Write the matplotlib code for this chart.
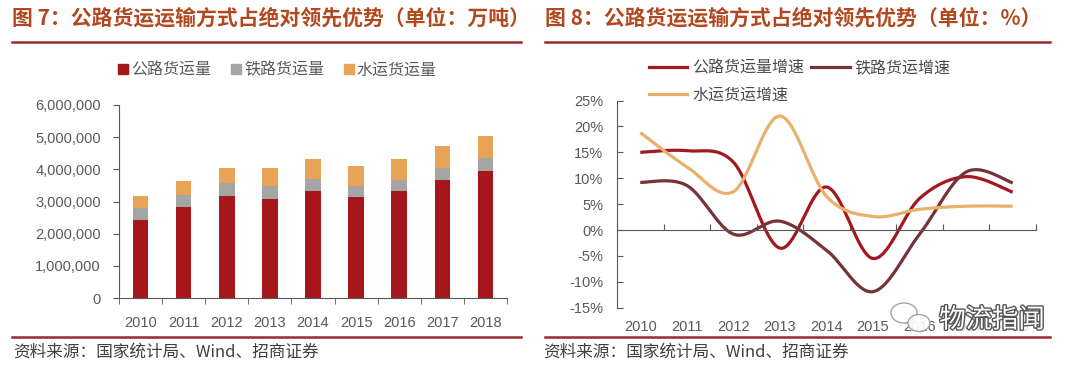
import numpy as np
import matplotlib
matplotlib.use('Agg')
import matplotlib.pyplot as plt
import matplotlib.patheffects as pe
from matplotlib.lines import Line2D
from matplotlib.patches import Ellipse
from matplotlib.font_manager import FontProperties
from matplotlib.ticker import FuncFormatter

plt.rcParams['font.family'] = ['Liberation Sans', 'Noto Sans CJK SC', 'DejaVu Sans']

# data
years = ['2010', '2011', '2012', '2013', '2014', '2015', '2016', '2017', '2018']
road_vol = [2440000, 2820000, 3180000, 3070000, 3330000, 3150000, 3340000, 3680000, 3950000]
rail_vol = [360000, 390000, 390000, 400000, 380000, 340000, 330000, 370000, 400000]
water_vol = [380000, 430000, 460000, 560000, 600000, 610000, 640000, 670000, 700000]

road_g = [15.0, 15.3, 13.1, -3.5, 8.3, -5.5, 6.1, 10.3, 7.3]
rail_g = [9.2, 8.6, -0.8, 1.7, -3.9, -11.9, -0.8, 11.2, 9.1]
water_g = [18.8, 12.2, 7.4, 22.0, 6.5, 2.6, 4.0, 4.6, 4.6]

vol_labels = ['公路货运量', '铁路货运量', '水运货运量']
g_labels = ['公路货运量增速', '铁路货运增速', '水运货运增速']

RED = '#A6171C'
GRAY = '#A5A5A5'
ORANGE = '#E8A456'
L_ROAD = '#A3181F'
L_RAIL = '#763236'
L_WATER = '#E9B06C'
TITLE = '#B2481F'
RULE = '#9B2A2E'
AX = '#595959'

cjk = FontProperties(family='Noto Sans CJK SC', size=11.5)


def smooth(xs, ys, n=40):
    # excel-like smoothed line (bezier through the points)
    pts = np.column_stack([xs, ys]).astype(float)
    p = np.vstack([pts[0], pts, pts[-1]])
    t = np.linspace(0, 1, n)[:, None]
    segs = []
    for i in range(1, len(p) - 2):
        p0, p1, p2, p3 = p[i - 1], p[i], p[i + 1], p[i + 2]
        c1 = p1 + (p2 - p0) / 6
        c2 = p2 - (p3 - p1) / 6
        segs.append((1 - t) ** 3 * p1 + 3 * (1 - t) ** 2 * t * c1
                    + 3 * (1 - t) * t ** 2 * c2 + t ** 3 * p2)
    s = np.vstack(segs)
    return s[:, 0], s[:, 1]


W, H = 1080, 372
fig = plt.figure(figsize=(10.8, 3.72), dpi=100)

# ---- left: stacked bars
x = np.arange(len(years))
road = np.array(road_vol)
rail = np.array(rail_vol)
water = np.array(water_vol)

ax1 = fig.add_axes([119 / W, 1 - 298 / H, 388 / W, 193 / H])
ax1.bar(x, road, width=0.36, color=RED)
ax1.bar(x, rail, width=0.36, bottom=road, color=GRAY)
ax1.bar(x, water, width=0.36, bottom=road + rail, color=ORANGE)
ax1.set_xlim(-0.5, len(years) - 0.5)
ax1.set_ylim(0, 6000000)
ax1.set_yticks(np.arange(0, 6000001, 1000000))
ax1.yaxis.set_major_formatter(FuncFormatter(lambda v, p: f'{v:,.0f}'))
ax1.set_xticks(x, years)
ax1.set_xticks(np.arange(-0.5, len(years)), minor=True)
ax1.tick_params(axis='x', which='major', length=0, pad=13, labelsize=10.5, labelcolor=AX)
ax1.tick_params(axis='x', which='minor', length=4, direction='out', color=AX)
ax1.tick_params(axis='y', length=4, direction='out', color=AX, pad=9, labelsize=10.5, labelcolor=AX)
for s in ['top', 'right']:
    ax1.spines[s].set_visible(False)
for s in ['left', 'bottom']:
    ax1.spines[s].set_color(AX)

h1 = [Line2D([], [], marker='s', linestyle='none', markersize=7, color=c) for c in [RED, GRAY, ORANGE]]
fig.legend(h1, vol_labels, loc='center', bbox_to_anchor=(278 / W, 1 - 70 / H), ncol=3,
           frameon=False, handlelength=0.5, handletextpad=0.25, columnspacing=1.3,
           prop=cjk, labelcolor=AX, borderpad=0)

# ---- right: growth lines
ax2 = fig.add_axes([617 / W, 1 - 307.7 / H, 419 / W, 207.2 / H])
for ys, c in [(road_g, L_ROAD), (rail_g, L_RAIL), (water_g, L_WATER)]:
    sx, sy = smooth(x, ys)
    ax2.plot(sx, sy, color=c, lw=2.3, solid_capstyle='butt')
ax2.set_xlim(-0.5, len(years) - 0.5)
ax2.set_ylim(-15, 25)
ax2.set_yticks(np.arange(-15, 26, 5))
ax2.yaxis.set_major_formatter(FuncFormatter(lambda v, p: f'{v:.0f}%'))
ax2.tick_params(axis='y', length=4, direction='in', color=AX, pad=10, labelsize=10.5, labelcolor=AX)
ax2.spines['bottom'].set_position(('data', 0))
ax2.set_xticks(np.arange(-0.5, len(years)))
ax2.tick_params(axis='x', length=4, direction='in', color=AX, labelbottom=False)
for s in ['top', 'right']:
    ax2.spines[s].set_visible(False)
for s in ['left', 'bottom']:
    ax2.spines[s].set_color(AX)
sec = ax2.secondary_xaxis('bottom')
sec.set_xticks(x, years)
sec.tick_params(length=0, pad=9, labelsize=10.5, labelcolor=AX)
sec.spines['bottom'].set_visible(False)

h2 = [Line2D([], [], color=c, lw=2.3) for c in [L_ROAD, L_WATER, L_RAIL]]
fig.legend(h2, [g_labels[0], g_labels[2], g_labels[1]], loc='upper left',
           bbox_to_anchor=(649 / W, 1 - 60 / H), ncol=2, frameon=False,
           handlelength=2.4, handletextpad=0.3, columnspacing=0.45, labelspacing=0.6,
           prop=cjk, labelcolor='#4a4a4a', borderpad=0, borderaxespad=0)

# ---- titles, rules and sources
tfont = FontProperties(family='Noto Sans CJK SC', size=15, weight='bold')
fig.text(12 / W, 1 - 18 / H, '图 7：公路货运运输方式占绝对领先优势（单位：万吨）',
         fontproperties=tfont, color=TITLE, va='center')
fig.text(545 / W, 1 - 18 / H, '图 8：公路货运运输方式占绝对领先优势（单位：%）',
         fontproperties=tfont, color=TITLE, va='center')
for x0, x1 in [(12, 521), (545, 1050)]:
    for yy in [42, 337]:
        fig.add_artist(Line2D([x0 / W, x1 / W], [1 - yy / H] * 2, color=RULE, lw=1.8))
sfont = FontProperties(family='Noto Sans CJK SC', size=12)
for x0 in [13, 543]:
    fig.text(x0 / W, 1 - 352 / H, '资料来源：国家统计局、Wind、招商证券',
             fontproperties=sfont, color='#404040', va='center')

# watermark
for (cx, cy, w, h) in [(904, 313, 26, 20), (919, 323, 22, 17)]:
    fig.add_artist(Ellipse((cx / W, 1 - cy / H), w / W, h / H, transform=fig.transFigure,
                           facecolor='white', edgecolor='#9a9a9a', lw=1, alpha=0.9, zorder=5))
fig.text(992 / W, 1 - 320 / H, '物流指闻', fontproperties=FontProperties(family='Noto Sans CJK SC', size=19),
         color='white', ha='center', va='center', zorder=6,
         path_effects=[pe.withStroke(linewidth=2, foreground='#555555')],
         bbox=dict(facecolor='white', alpha=0.8, edgecolor='none', pad=0.5))

fig.savefig('out.png', dpi=100)
